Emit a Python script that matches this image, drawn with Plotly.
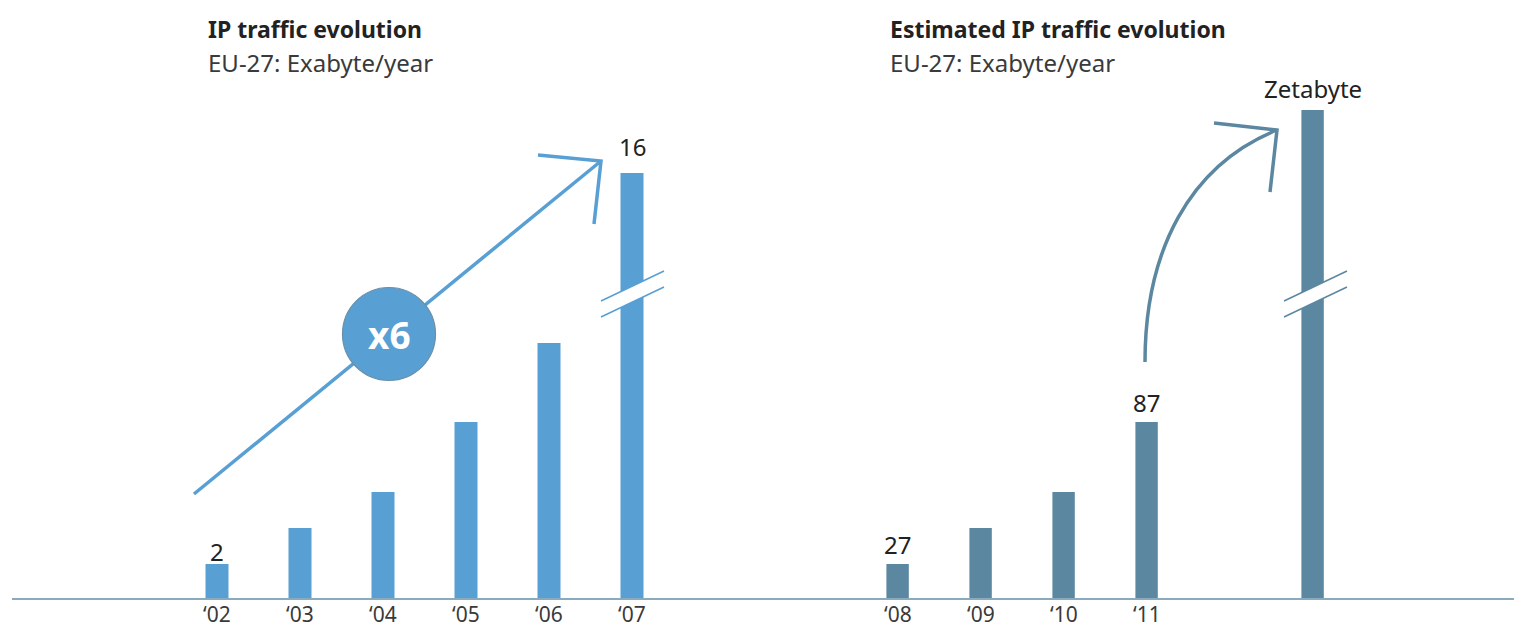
import plotly.graph_objects as go

# ---- data ----
years_a = ["‘02", "‘03", "‘04", "‘05", "‘06", "‘07"]
heights_a = [34, 70, 106, 176, 255, 425]          # visual bar heights (broken scale)
labels_a = ["2", "", "", "", "", "16"]

years_b = ["‘08", "‘09", "‘10", "‘11", ""]
heights_b = [34, 70, 106, 176, 488]
labels_b = ["27", "", "", "87", "Zetabyte"]

pos_a = [0, 1, 2, 3, 4, 5]
pos_b = [8.2, 9.2, 10.2, 11.2, 13.2]

W, H = 1514, 624
BASE = 598          # baseline pixel row
UNIT = 83           # pixels per slot
X0PIX = 217         # pixel centre of first bar
LEFT = 12

xmin = -(X0PIX - LEFT) / UNIT
xmax = xmin + (W - LEFT) / UNIT

C_A = "#589fd4"
C_B = "#5b87a0"
AXIS_C = "#8aaabd"
TXT = "#222222"
FONT = "Noto Sans"


def px(x):
    return x / W


def py(y):
    return 1 - y / H


fig = go.Figure()
fig.add_trace(go.Bar(x=pos_a, y=heights_a, width=0.277, marker=dict(color=C_A, line=dict(width=0)),
                     hoverinfo="skip"))
fig.add_trace(go.Bar(x=pos_b, y=heights_b, width=0.27, marker=dict(color=C_B, line=dict(width=0)),
                     hoverinfo="skip"))

shapes = []
annotations = []

# value labels (centre offset above bar top, in px)
label_shift = {"2": 13, "16": 27, "27": 20, "87": 20, "Zetabyte": 22}
for xs, hs, ls in [(pos_a, heights_a, labels_a), (pos_b, heights_b, labels_b)]:
    for x, h, l in zip(xs, hs, ls):
        if l:
            annotations.append(dict(x=x, y=h, xref="x", yref="y", text=l, showarrow=False,
                                    xanchor="center", yanchor="middle", yshift=label_shift[l],
                                    font=dict(family=FONT, size=24, color=TXT)))

# category (year) labels under the axis
for x, t in zip(pos_a + pos_b, years_a + years_b):
    if t:
        annotations.append(dict(x=x, y=py(614), xref="x", yref="paper", text=t, showarrow=False,
                                xanchor="center", yanchor="middle", borderpad=0,
                                font=dict(family=FONT, size=21, color="#3a3a3a")))

# titles
for x, t in [(206, "IP traffic evolution"), (888, "Estimated IP traffic evolution")]:
    annotations.append(dict(x=px(x), y=py(29), xref="paper", yref="paper", text="<b>" + t + "</b>",
                            showarrow=False, xanchor="left", yanchor="middle",
                            font=dict(family=FONT, size=23, color=TXT)))
    annotations.append(dict(x=px(x), y=py(63), xref="paper", yref="paper", text="EU-27: Exabyte/year",
                            showarrow=False, xanchor="left", yanchor="middle",
                            font=dict(family=FONT, size=24, color="#3a3a3a")))

# left straight arrow
shapes.append(dict(type="line", xref="paper", yref="paper", x0=px(194), y0=py(494), x1=px(601), y1=py(161),
                   line=dict(color=C_A, width=3.5)))
shapes.append(dict(type="path", xref="paper", yref="paper",
                   path=f"M {px(538)} {py(155)} L {px(601)} {py(161)} L {px(594)} {py(224)}",
                   line=dict(color=C_A, width=3.5)))
# x6 circle
cx, cy, r = 389, 334, 46.5
shapes.append(dict(type="circle", xref="paper", yref="paper", x0=px(cx - r), x1=px(cx + r),
                   y0=py(cy + r), y1=py(cy - r), fillcolor=C_A, line=dict(color="#6b8fa6", width=1.2)))
annotations.append(dict(x=px(cx), y=py(cy), xref="paper", yref="paper", text="<b>x6</b>", showarrow=False,
                        xanchor="center", yanchor="middle",
                        font=dict(family=FONT, size=37, color="white")))

# right curved arrow
shapes.append(dict(type="path", xref="paper", yref="paper",
                   path=f"M {px(1145)} {py(362)} C {px(1145)} {py(250)} {px(1190)} {py(165)} {px(1277)} {py(130)}",
                   line=dict(color=C_B, width=3.5)))
shapes.append(dict(type="path", xref="paper", yref="paper",
                   path=f"M {px(1214)} {py(123)} L {px(1277)} {py(130)} L {px(1270)} {py(192)}",
                   line=dict(color=C_B, width=3.5)))

# break marks
for xc, col in [(632, C_A), (1315, C_B)]:
    xl, xr = xc - 31, xc + 32
    shapes.append(dict(type="path", xref="paper", yref="paper",
                       path=f"M {px(xl)} {py(301)} L {px(xr)} {py(271)} L {px(xr)} {py(287)} L {px(xl)} {py(317)} Z",
                       fillcolor="white", line=dict(width=0)))
    shapes.append(dict(type="line", xref="paper", yref="paper", x0=px(xl), y0=py(301), x1=px(xr), y1=py(271),
                       line=dict(color=col, width=1.5)))
    shapes.append(dict(type="line", xref="paper", yref="paper", x0=px(xl), y0=py(317), x1=px(xr), y1=py(287),
                       line=dict(color=col, width=1.5)))

fig.update_layout(
    width=W, height=H,
    margin=dict(l=0, r=0, t=0, b=0),
    paper_bgcolor="white", plot_bgcolor="white",
    showlegend=False,
    shapes=shapes,
    annotations=annotations,
    font=dict(family=FONT, color="#3a3a3a"),
    xaxis=dict(domain=[LEFT / W, 1], range=[xmin, xmax], showgrid=False, zeroline=False,
               showline=True, linecolor=AXIS_C, linewidth=2, showticklabels=False,
               ticks="", automargin=False, fixedrange=True),
    yaxis=dict(domain=[1 - BASE / H, 1], range=[0, BASE], visible=False, fixedrange=True),
)

fig.write_html("out.html", config={"displayModeBar": False})
